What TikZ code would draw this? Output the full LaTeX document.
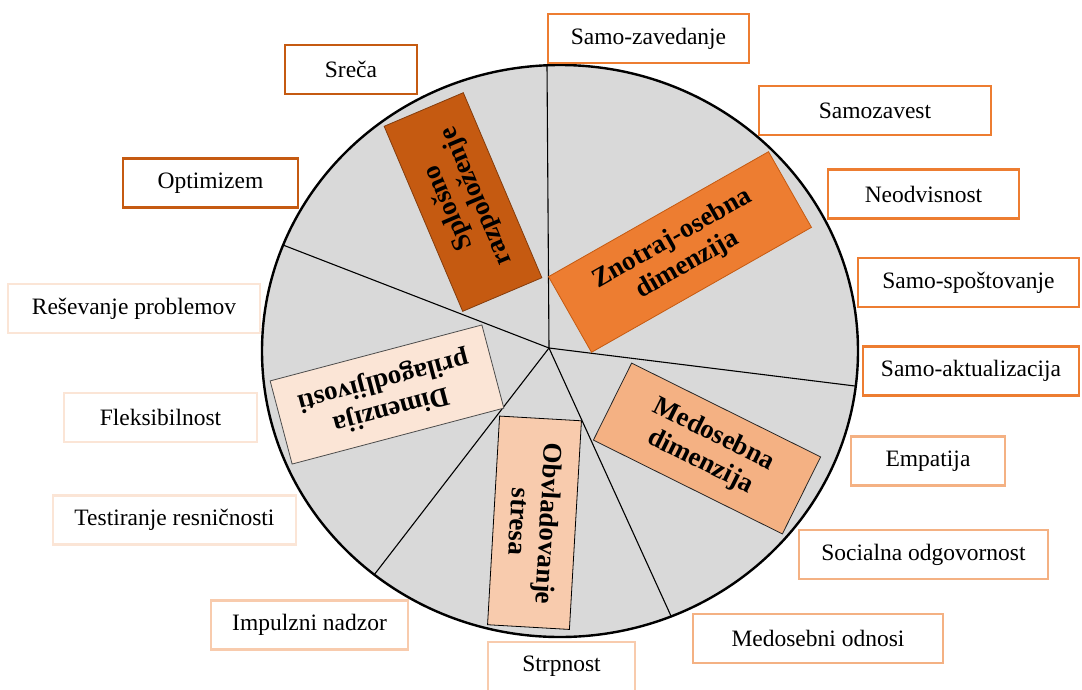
\documentclass[tikz,border=0pt]{standalone}
\usepackage{fontspec}
\setmainfont{Liberation Serif}
\definecolor{darkor}{HTML}{C55A11}
\definecolor{brown}{HTML}{843C0C}
\definecolor{midor}{HTML}{ED7D31}
\definecolor{peach}{HTML}{F4B183}
\definecolor{lightpeach}{HTML}{F8CBAD}
\definecolor{pale}{HTML}{FBE5D6}
\definecolor{disc}{HTML}{D9D9D9}
\begin{document}
\begin{tikzpicture}[x=1pt, y=-1pt,
	lbl/.style={draw=#1, fill=white, line width=2.2pt, minimum height=49pt, inner sep=0pt,
		font=\fontsize{23.5}{28}\selectfont},
	dimbox/.style={fill=#1, line width=0.8pt, inner sep=0pt, align=center,
		font=\fontsize{27}{30}\selectfont\bfseries}]
	\useasboundingbox (0, 0) rectangle (1082, 689);
	% disc and its five sectors
	\draw[fill=disc, line width=2.4pt] (560, 351) ellipse [x radius=298, y radius=286];
	\coordinate (hub) at (549, 348);
	\coordinate (top) at (547, 65);
	\coordinate (upleft) at (283, 245);
	\coordinate (right) at (855, 386);
	\coordinate (lowright) at (671, 616);
	\coordinate (lowleft) at (374, 575);
	\draw[line width=1.1pt] (hub) -- (top);
	\draw[line width=1.1pt] (hub) -- (upleft);
	\draw[line width=1.1pt] (hub) -- (right);
	\draw[line width=1.1pt] (hub) -- (lowright);
	\draw[line width=1.1pt] (hub) -- (lowleft);
	% dimensions
	\node[dimbox=darkor, draw=brown, rotate=113, minimum width=201pt, minimum height=86pt]
		(spl) at (463, 202) {Splošno\\razpoloženje};
	\node[dimbox=midor, draw=darkor, rotate=29.6, minimum width=253pt, minimum height=87pt]
		(zno) at (680, 252) {Znotraj-osebna\\dimenzija};
	\node[dimbox=pale, draw=black!70, rotate=194.8, minimum width=219pt, minimum height=86pt]
		(pri) at (387, 394.5) {Dimenzija\\prilagodljivosti};
	\node[dimbox=lightpeach, draw=black, rotate=-93.3, minimum width=209pt, minimum height=82pt]
		(obv) at (534.5, 522.75) {Obvladovanje\\stresa};
	\node[dimbox=peach, draw=black!85, rotate=-26.4, minimum width=211pt, minimum height=86pt]
		(med) at (707, 448.5) {Medosebna\\dimenzija};
	% components
	\node[lbl=darkor, minimum width=132pt] (sreca) at (351, 69.5) {Sreča};
	\node[lbl=darkor, minimum width=175pt] (optimizem) at (210.5, 183) {Optimizem};
	\node[lbl=midor, minimum width=201pt] (zavedanje) at (648.5, 38.5) {Samo-zavedanje};
	\node[lbl=midor, minimum width=232pt] (zavest) at (875, 110.5) {Samozavest};
	\node[lbl=midor, minimum width=191pt] (neodvisnost) at (923.5, 194) {Neodvisnost};
	\node[lbl=midor, minimum width=221pt] (spostovanje) at (968.5, 282.5) {Samo-spoštovanje};
	\node[lbl=midor, minimum width=216pt] (aktualizacija) at (971, 371) {Samo-aktualizacija};
	\node[lbl=peach, minimum width=154pt] (empatija) at (928, 461) {Empatija};
	\node[lbl=peach, minimum width=249pt] (socialna) at (923.5, 554.5) {Socialna odgovornost};
	\node[lbl=peach, minimum width=250pt] (odnosi) at (818, 638.5) {Medosebni odnosi};
	\node[lbl=lightpeach, minimum width=147pt] (strpnost) at (561.5, 666.5) {Strpnost};
	\node[lbl=lightpeach, minimum width=197pt] (impulzni) at (309.5, 625) {Impulzni nadzor};
	\node[lbl=pale, minimum width=243pt] (testiranje) at (174.5, 520) {Testiranje resničnosti};
	\node[lbl=pale, minimum width=193pt] (fleksibilnost) at (160.5, 417.5) {Fleksibilnost};
	\node[lbl=pale, minimum width=252pt] (resevanje) at (134, 308.5) {Reševanje problemov};
\end{tikzpicture}
\end{document}
